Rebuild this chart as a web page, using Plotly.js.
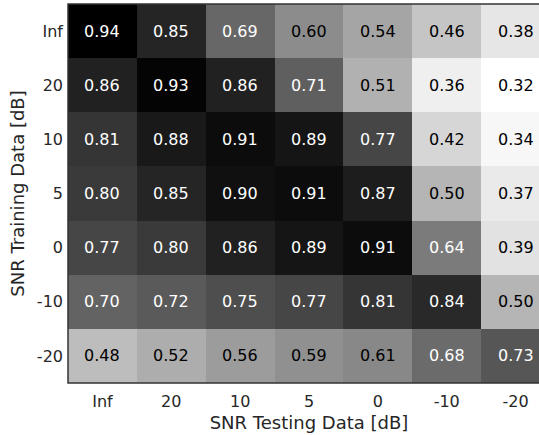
<!DOCTYPE html>
<html>
<head>
<meta charset="utf-8">
<script src="https://cdn.plot.ly/plotly-3.0.1.min.js"></script>
<style>
  html, body { margin: 0; padding: 0; background: #fff; overflow: hidden; }
  #chart { width: 560px; height: 435px; }
</style>
</head>
<body>
<div id="chart"></div>
<script>
// SNR conditions used for testing (columns) and training (rows)
const testLabels = ["Inf", "20", "10", "5", "0", "-10", "-20"];
const trainLabels = ["Inf", "20", "10", "5", "0", "-10", "-20"];

// Accuracy per training SNR (one row each), ordered as testLabels
const rowInf = [0.94, 0.85, 0.69, 0.60, 0.54, 0.46, 0.38];
const row20  = [0.86, 0.93, 0.86, 0.71, 0.51, 0.36, 0.32];
const row10  = [0.81, 0.88, 0.91, 0.89, 0.77, 0.42, 0.34];
const row5   = [0.80, 0.85, 0.90, 0.91, 0.87, 0.50, 0.37];
const row0   = [0.77, 0.80, 0.86, 0.89, 0.91, 0.64, 0.39];
const rowM10 = [0.70, 0.72, 0.75, 0.77, 0.81, 0.84, 0.50];
const rowM20 = [0.48, 0.52, 0.56, 0.59, 0.61, 0.68, 0.73];

const z = [rowInf, row20, row10, row5, row0, rowM10, rowM20];

const zMin = 0.32, zMax = 0.94;
const textThreshold = (zMin + zMax) / 2;
const fontFamily = "DejaVu Sans, sans-serif";

// Cell positions are column / row indices; labels come from the arrays above
const xIdx = testLabels.map((_, j) => j);
const yIdx = trainLabels.map((_, i) => i);

// Value labels inside each cell, light text on dark cells
const annotations = [];
z.forEach((row, i) => {
  row.forEach((v, j) => {
    annotations.push({
      x: xIdx[j], y: yIdx[i], xref: "x", yref: "y",
      text: v.toFixed(2), showarrow: false,
      font: { family: fontFamily, size: 16, color: v > textThreshold ? "#ffffff" : "#000000" }
    });
  });
});

const trace = {
  type: "heatmap",
  x: xIdx,
  y: yIdx,
  z: z,
  zmin: zMin,
  zmax: zMax,
  colorscale: [[0, "rgb(255,255,255)"], [1, "rgb(0,0,0)"]],
  showscale: false,
  hoverinfo: "skip"
};

const layout = {
  width: 560,
  height: 435,
  margin: { l: 68, r: 10, t: 4, b: 52 },
  paper_bgcolor: "#ffffff",
  plot_bgcolor: "#ffffff",
  font: { family: fontFamily, size: 16, color: "#262626" },
  xaxis: {
    range: [-0.5, testLabels.length - 0.5],
    tickmode: "array", tickvals: xIdx, ticktext: testLabels,
    showgrid: false, zeroline: false, ticks: "",
    ticklabelstandoff: 7,
    tickfont: { family: fontFamily, size: 16, color: "#262626" },
    title: { text: "SNR Testing Data [dB]", font: { family: fontFamily, size: 18, color: "#262626" }, standoff: 6 }
  },
  yaxis: {
    range: [trainLabels.length - 0.5, -0.5],
    tickmode: "array", tickvals: yIdx, ticktext: trainLabels,
    showgrid: false, zeroline: false, ticks: "",
    ticklabelstandoff: 4,
    tickfont: { family: fontFamily, size: 16, color: "#262626" },
    title: { text: "SNR Training Data [dB]", font: { family: fontFamily, size: 18, color: "#262626" }, standoff: 7 }
  },
  shapes: [{
    type: "rect", xref: "paper", yref: "paper", x0: 0, x1: 1, y0: 0, y1: 1,
    line: { color: "#333333", width: 1.5 }, fillcolor: "rgba(0,0,0,0)"
  }],
  annotations: annotations
};

Plotly.newPlot("chart", [trace], layout, { displayModeBar: false, staticPlot: true });
</script>
</body>
</html>
